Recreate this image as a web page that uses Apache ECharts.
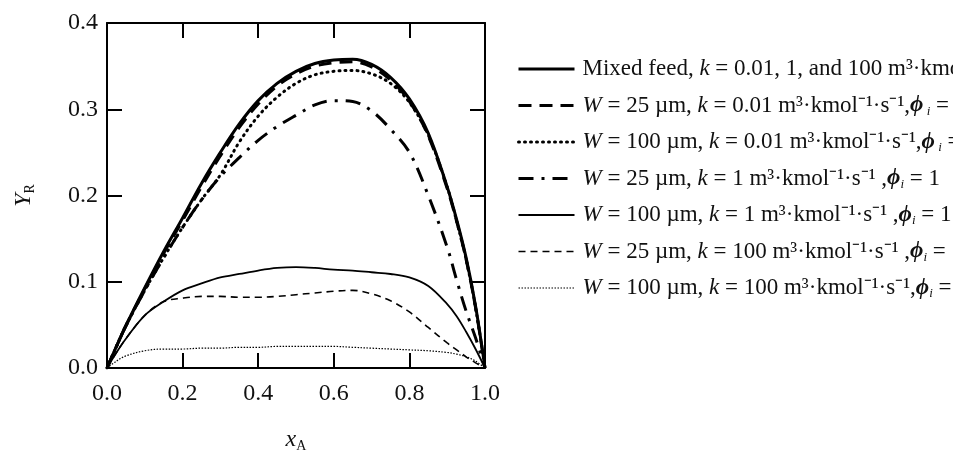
<!DOCTYPE html>
<html>
<head>
<meta charset="utf-8">
<script src="https://cdn.jsdelivr.net/npm/echarts@6/dist/echarts.min.js"></script>
<style>
  html, body { margin: 0; padding: 0; background: #fff; }
  #main { width: 953px; height: 450px; }
</style>
</head>
<body>
<div id="main"></div>
<script>
// x_A grid shared by all curves
var xs = [0, 0.025, 0.05, 0.1, 0.15, 0.2, 0.25, 0.3, 0.35, 0.4, 0.45, 0.5, 0.55, 0.6, 0.65, 0.7, 0.75, 0.8, 0.85, 0.9, 0.925, 0.95, 0.975, 1.0];

// Y_R
var mixedFeed  = [0, 0.025, 0.049, 0.093, 0.135, 0.174, 0.214, 0.25, 0.283, 0.31, 0.33, 0.344, 0.353, 0.357, 0.358, 0.352, 0.337, 0.312, 0.272, 0.21, 0.172, 0.128, 0.072, 0];
var w25k001    = [0, 0.025, 0.049, 0.092, 0.133, 0.171, 0.21, 0.246, 0.279, 0.306, 0.327, 0.341, 0.35, 0.354, 0.355, 0.349, 0.334, 0.309, 0.269, 0.208, 0.17, 0.126, 0.07, 0];
var w100k001   = [0, 0.025, 0.049, 0.09, 0.128, 0.163, 0.195, 0.224, 0.262, 0.292, 0.314, 0.33, 0.34, 0.344, 0.345, 0.341, 0.33, 0.308, 0.27, 0.21, 0.17, 0.126, 0.07, 0];
var w25k1      = [0, 0.025, 0.049, 0.09, 0.128, 0.163, 0.195, 0.222, 0.244, 0.264, 0.28, 0.293, 0.305, 0.31, 0.309, 0.298, 0.277, 0.25, 0.2, 0.14, 0.102, 0.066, 0.035, 0];
var w100k1     = [0, 0.018, 0.034, 0.061, 0.077, 0.09, 0.098, 0.105, 0.109, 0.113, 0.116, 0.117, 0.116, 0.114, 0.113, 0.111, 0.109, 0.105, 0.095, 0.074, 0.06, 0.042, 0.022, 0];
var w25k100    = [0, 0.018, 0.034, 0.061, 0.077, 0.081, 0.083, 0.083, 0.082, 0.082, 0.083, 0.085, 0.087, 0.089, 0.09, 0.086, 0.078, 0.065, 0.047, 0.029, 0.021, 0.013, 0.006, 0];
var w100k100   = [0, 0.008, 0.014, 0.02, 0.022, 0.022, 0.023, 0.023, 0.024, 0.024, 0.025, 0.025, 0.025, 0.025, 0.024, 0.023, 0.022, 0.021, 0.02, 0.018, 0.016, 0.013, 0.008, 0];

var legendLabels = [
  'Mixed feed, {i|k} = 0.01, 1, and 100 m³·kmol⁻¹·s⁻¹',
  '{i|W} = 25 µm, {i|k} = 0.01 m³·kmol⁻¹·s⁻¹,{p|ϕ}{s| i} = 1',
  '{i|W} = 100 µm, {i|k} = 0.01 m³·kmol⁻¹·s⁻¹,{p|ϕ}{s| i} = 1',
  '{i|W} = 25 µm, {i|k} = 1 m³·kmol⁻¹·s⁻¹ ,{p|ϕ}{s|i} = 1',
  '{i|W} = 100 µm, {i|k} = 1 m³·kmol⁻¹·s⁻¹ ,{p|ϕ}{s|i} = 1',
  '{i|W} = 25 µm, {i|k} = 100 m³·kmol⁻¹·s⁻¹ ,{p|ϕ}{s|i} = 1',
  '{i|W} = 100 µm, {i|k} = 100 m³·kmol⁻¹·s⁻¹,{p|ϕ}{s|i} = 1'
];

var serif = 'Liberation Serif';

function pairs(ys) {
  return xs.map(function (x, i) { return [x, ys[i]]; });
}

function curve(id, ys, width, type, cap) {
  return {
    name: id,
    type: 'line',
    data: pairs(ys),
    smooth: 0.35,
    symbol: 'none',
    color: '#000',
    lineStyle: { color: '#000', width: width, type: type, cap: cap || 'butt' }
  };
}

var series = [
  curve('s0', mixedFeed, 3, 'solid'),
  curve('s1', w25k001, 3, [13, 8]),
  curve('s2', w100k001, 3, [1, 5], 'round'),
  curve('s3', w25k1, 3, [15, 8, 3, 8]),
  curve('s4', w100k1, 1.8, 'solid'),
  curve('s5', w25k100, 1.6, [7, 5]),
  curve('s6', w100k100, 1.2, [1.5, 1.5])
];

var tickStyle = { inside: true, length: 15, lineStyle: { color: '#000', width: 2 } };
var lineStyle = { onZero: false, lineStyle: { color: '#000', width: 2 } };
var labelStyle = { fontFamily: serif, fontSize: 24, color: '#111' };
var nameRich = {
  i: { fontFamily: serif, fontSize: 24, fontStyle: 'italic', color: '#111' },
  s: { fontFamily: serif, fontSize: 14, color: '#111', padding: [12, 0, 0, 0] }
};

var chart = echarts.init(document.getElementById('main'));
chart.setOption({
  animation: false,
  grid: { left: 107, right: 468, top: 23, bottom: 82, outerBoundsMode: 'none', containLabel: false },
  xAxis: [{
    type: 'value', min: 0, max: 1, interval: 0.2,
    axisLine: lineStyle, axisTick: tickStyle, splitLine: { show: false },
    axisLabel: Object.assign({ margin: 14, formatter: function (v) { return v.toFixed(1); } }, labelStyle),
    name: '{i|x}{s|A}', nameLocation: 'middle', nameGap: 59,
    nameTextStyle: { fontFamily: serif, fontSize: 24, color: '#111', rich: nameRich }
  }, {
    type: 'value', min: 0, max: 1, interval: 0.2, position: 'top',
    axisLine: lineStyle, axisTick: tickStyle, axisLabel: { show: false }, splitLine: { show: false }
  }],
  yAxis: [{
    type: 'value', min: 0, max: 0.4, interval: 0.1,
    axisLine: lineStyle, axisTick: tickStyle, splitLine: { show: false },
    axisLabel: Object.assign({ margin: 9, formatter: function (v) { return v.toFixed(1); } }, labelStyle),
    name: '{i|Y}{s|R}', nameLocation: 'middle', nameGap: 70,
    nameTextStyle: { fontFamily: serif, fontSize: 24, color: '#111', rich: nameRich }
  }, {
    type: 'value', min: 0, max: 0.4, interval: 0.1, position: 'right',
    axisLine: lineStyle, axisTick: tickStyle, axisLabel: { show: false }, splitLine: { show: false }
  }],
  legend: {
    orient: 'vertical', left: 512, top: 50,
    itemWidth: 56, itemHeight: 14, itemGap: 8.5,
    selectedMode: false,
    itemStyle: { opacity: 0 },
    data: series.map(function (s) {
      return { name: s.name, lineStyle: { width: s.lineStyle.width, type: s.lineStyle.type, cap: s.lineStyle.cap } };
    }),
    formatter: function (name) { return legendLabels[+name.slice(1)]; },
    textStyle: {
      fontFamily: serif, fontSize: 23, color: '#111', lineHeight: 28, padding: [0, 0, 0, 3],
      rich: {
        i: { fontFamily: serif, fontSize: 23, fontStyle: 'italic', color: '#111' },
        p: { fontFamily: serif, fontSize: 23, fontStyle: 'italic', fontWeight: 'bold', color: '#111' },
        s: { fontFamily: serif, fontSize: 13, fontStyle: 'italic', color: '#111', padding: [12, 0, 0, 0] }
      }
    }
  },
  series: series
});
</script>
</body>
</html>
